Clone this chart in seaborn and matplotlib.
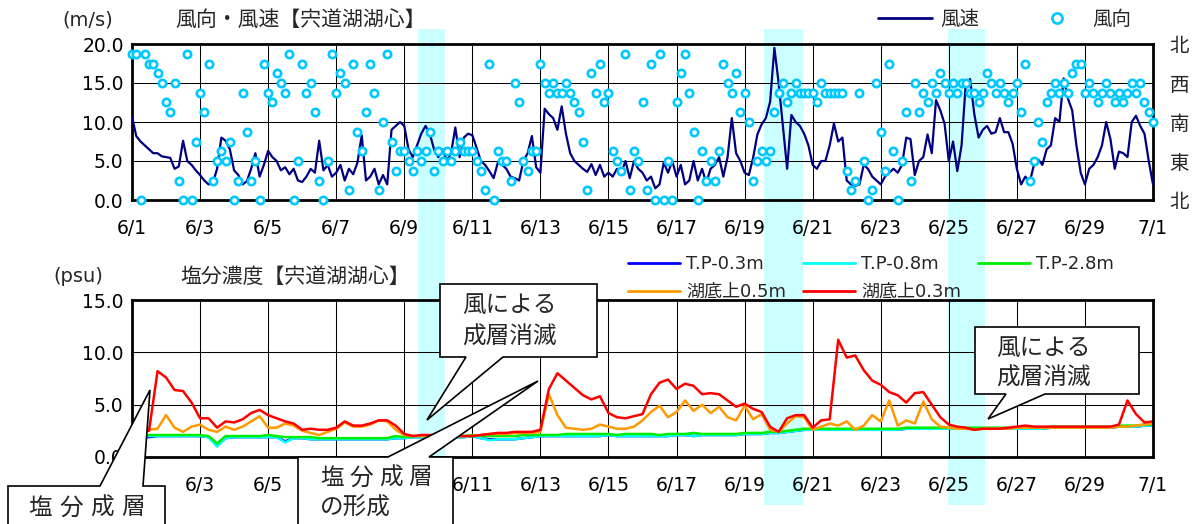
import numpy as np
import pandas as pd
import matplotlib
matplotlib.use("Agg")
import matplotlib.pyplot as plt
import matplotlib.patches as mpatches
import matplotlib.transforms as mtransforms
from matplotlib.lines import Line2D
import seaborn as sns

# ------------------------------------------------------------------ data
date_labels = ["6/1", "6/3", "6/5", "6/7", "6/9", "6/11", "6/13", "6/15",
               "6/17", "6/19", "6/21", "6/23", "6/25", "6/27", "6/29", "7/1"]
# labels of the lower panel that lie under the call-out boxes
hidden_lower_labels = ["6/1", "6/7", "6/9"]
dir_labels = ["北", "東", "南", "西", "北"]

# wind speed (m/s), every 3 hours from 6/1 0:00 to 7/1 0:00
wind_speed = [
    10.7, 8.2, 7.5, 7.0, 6.5, 6.0, 6.0, 5.6,
    5.5, 5.4, 4.0, 4.3, 7.6, 5.0, 4.5, 3.8,
    3.2, 2.5, 2.0, 2.2, 4.0, 8.0, 7.6, 6.5,
    3.8, 3.2, 2.0, 2.4, 4.0, 6.0, 3.0, 4.5,
    6.3, 5.5, 5.0, 3.8, 4.2, 3.3, 4.0, 2.5,
    2.3, 3.0, 4.0, 3.5, 7.6, 3.8, 4.5, 3.0,
    3.5, 4.5, 2.5, 4.0, 3.3, 4.8, 8.3, 2.5,
    3.0, 4.0, 2.0, 3.2, 2.0, 9.0, 9.5, 10.0,
    9.5, 6.5, 5.5, 7.0, 8.5, 9.5, 8.5, 6.5,
    5.5, 6.5, 5.0, 6.0, 9.3, 5.5, 8.0, 8.5,
    8.3, 6.7, 5.0, 4.5, 3.7, 2.8, 4.8, 4.5,
    4.0, 3.0, 2.8, 2.5, 5.0, 6.0, 8.2, 4.2,
    3.5, 11.7, 11.0, 10.5, 9.0, 12.0, 8.5, 6.0,
    5.0, 4.5, 4.0, 3.6, 4.6, 3.2, 4.5, 3.0,
    3.5, 3.0, 4.0, 3.5, 5.0, 2.8, 5.0, 4.0,
    3.5, 2.5, 3.0, 1.5, 2.0, 4.8, 3.5, 5.0,
    3.0, 4.5, 2.0, 2.5, 5.0, 2.5, 4.0, 2.2,
    4.0, 4.5, 5.5, 3.0, 5.5, 10.5, 6.0, 5.0,
    3.5, 3.2, 5.4, 8.4, 9.7, 10.5, 12.6, 19.5,
    15.0, 9.5, 4.0, 10.9, 10.0, 9.5, 8.5, 7.0,
    4.5, 4.0, 5.0, 5.0, 7.0, 9.8, 7.5, 8.0,
    2.5, 2.0, 1.8, 2.0, 4.5, 4.0, 3.0, 2.5,
    2.0, 3.0, 3.5, 4.0, 3.5, 4.5, 8.0, 7.8,
    3.2, 5.0, 5.5, 8.4, 6.0, 12.8, 11.5, 9.8,
    5.0, 7.5, 3.7, 7.0, 15.0, 15.5, 11.0, 8.0,
    9.0, 9.5, 8.5, 8.7, 10.5, 8.7, 8.7, 7.2,
    4.0, 2.0, 3.0, 2.2, 4.5, 5.2, 4.5, 6.5,
    7.0, 10.5, 10.0, 15.6, 13.0, 11.5, 7.0, 3.5,
    2.0, 4.0, 4.5, 5.5, 7.0, 10.0, 7.8, 4.0,
    6.2, 6.0, 5.5, 10.0, 10.8, 9.5, 8.5, 5.0,
    2.0,
]

# wind direction, 16-point index (0=N, 4=E, 8=S, 12=W), every 3 hours
wind_dir16 = [
    15, 15, 0, 15, 14, 14, 13, 12,
    10, 9, 12, 2, 0, 15, 0, 6,
    11, 9, 14, 2, 4, 5, 4, 6,
    0, 2, 11, 7, 2, 4, 0, 14,
    11, 10, 13, 12, 11, 15, 0, 4,
    14, 11, 12, 9, 2, 0, 4, 15,
    11, 13, 12, 1, 14, 7, 5, 9,
    14, 11, 1, 8, 15, 6, 3, 5,
    5, 4, 3, 5, 4, 5, 7, 3,
    5, 4, 5, 4, 5, 6, 5, 5,
    5, 4, 3, 1, 14, 0, 5, 4,
    4, 2, 12, 10, 4, 3, 5, 5,
    14, 12, 11, 12, 11, 11, 12, 11,
    10, 9, 6, 1, 13, 11, 14, 10,
    11, 5, 4, 3, 15, 1, 5, 4,
    10, 1, 14, 0, 15, 0, 4, 0,
    10, 13, 15, 11, 7, 0, 5, 2,
    4, 2, 5, 14, 12, 11, 13, 9,
    11, 8, 2, 4, 5, 4, 5, 9,
    11, 12, 10, 11, 12, 11, 11, 11,
    11, 10, 12, 11, 11, 11, 11, 11,
    3, 1, 2, 11, 4, 0, 1, 12,
    7, 3, 14, 5, 0, 4, 9, 2,
    12, 9, 11, 10, 12, 11, 13, 12,
    11, 12, 11, 12, 12, 11, 11, 10,
    11, 13, 12, 11, 12, 11, 10, 11,
    12, 9, 14, 2, 4, 8, 6, 10,
    11, 12, 11, 12, 11, 13, 14, 14,
    11, 12, 11, 10, 11, 12, 11, 10,
    11, 10, 11, 12, 11, 12, 10, 9,
    8,
]

# salinity (psu), every 6 hours from 6/1 6:00 to 7/1 0:00
sal_bottom03 = [
    2.6, 2.5, 8.2, 7.6,  6.4, 6.3, 5.2, 3.7,  3.7, 2.8, 3.4, 3.3,
    3.6, 4.2, 4.5, 4.0,  3.7, 3.4, 3.2, 2.6,  2.7, 2.6, 2.6, 2.8,
    3.4, 3.0, 3.0, 3.2,  3.5, 3.5, 3.0, 2.2,  2.0, 2.1, 2.1, 2.1,
    2.1, 2.0, 2.0, 2.0,  2.1, 2.2, 2.3, 2.3,  2.4, 2.4, 2.4, 2.6,
    6.5, 8.0, 7.3, 6.6,  5.9, 5.5, 5.8, 4.2,  3.8, 3.7, 3.9, 4.1,
    6.0, 7.1, 7.4, 6.5,  7.0, 6.8, 6.0, 6.1,  6.0, 5.4, 4.8, 5.1,
    4.6, 4.3, 2.9, 2.4,  3.7, 4.0, 4.0, 2.8,  3.5, 3.6, 11.2, 9.5,
    9.7, 8.3, 7.3, 6.9,  6.2, 5.9, 5.2, 6.1,  6.2, 5.0, 3.8, 3.1,
    2.9, 2.8, 2.6, 2.7,  2.7, 2.7, 2.8, 2.9,  3.0, 2.9, 2.9, 2.9,
    2.9, 2.9, 2.9, 2.9,  2.9, 2.9, 2.9, 3.1,  5.4, 4.1, 3.3, 3.4,
]
sal_bottom05 = [
    2.7, 2.6, 2.7, 4.0,  2.8, 2.4, 2.9, 3.1,  2.6, 2.4, 2.9, 2.6,
    2.9, 3.4, 3.9, 2.8,  2.8, 3.2, 3.0, 2.5,  2.3, 2.1, 2.4, 2.7,
    3.3, 2.9, 2.9, 3.1,  3.5, 3.4, 2.6, 2.1,  2.0, 2.0, 2.0, 2.0,
    2.0, 2.0, 2.0, 2.0,  2.1, 2.2, 2.2, 2.2,  2.3, 2.3, 2.3, 2.4,
    6.0, 4.0, 2.8, 2.7,  2.6, 2.7, 3.1, 2.9,  2.7, 2.7, 2.9, 3.5,
    4.3, 4.9, 3.8, 4.3,  5.4, 4.4, 5.0, 4.2,  4.8, 3.8, 3.5, 4.9,
    3.6, 4.1, 2.6, 2.4,  3.2, 3.9, 3.8, 2.6,  2.9, 3.2, 3.0, 3.4,
    2.6, 3.0, 4.0, 3.4,  5.4, 3.0, 3.5, 3.2,  5.3, 3.6, 2.9, 2.8,
    2.7, 2.7, 2.6, 2.7,  2.7, 2.7, 2.7, 2.8,  2.8, 2.8, 2.8, 2.8,
    2.8, 2.8, 2.8, 2.8,  2.8, 2.8, 2.8, 2.9,  2.9, 3.0, 3.1, 3.2,
]
sal_tp28 = [
    2.1, 2.1, 2.1, 2.1,  2.1, 2.1, 2.1, 2.1,  2.0, 1.3, 2.0, 2.0,
    2.0, 2.0, 2.0, 2.1,  2.0, 1.9, 1.9, 1.9,  1.9, 1.8, 1.8, 1.8,
    1.8, 1.8, 1.8, 1.8,  1.8, 1.8, 2.0, 1.9,  2.0, 2.0, 2.0, 2.0,
    2.0, 2.0, 2.0, 2.1,  2.0, 2.0, 2.0, 2.0,  2.0, 2.1, 2.1, 2.1,
    2.1, 2.1, 2.2, 2.2,  2.2, 2.2, 2.2, 2.2,  2.1, 2.2, 2.2, 2.2,
    2.2, 2.1, 2.2, 2.2,  2.2, 2.3, 2.2, 2.2,  2.2, 2.2, 2.2, 2.3,
    2.3, 2.3, 2.4, 2.4,  2.5, 2.6, 2.7, 2.7,  2.7, 2.7, 2.7, 2.7,
    2.7, 2.7, 2.7, 2.7,  2.7, 2.7, 2.8, 2.8,  2.8, 2.8, 2.8, 2.8,
    2.8, 2.8, 2.8, 2.8,  2.8, 2.8, 2.8, 2.8,  2.8, 2.8, 2.8, 2.9,
    2.9, 2.9, 2.9, 2.9,  2.9, 2.9, 2.9, 3.0,  3.0, 3.0, 3.1, 3.1,
]
sal_tp08 = [
    2.0, 2.0, 2.0, 2.0,  2.0, 2.0, 2.0, 2.0,  1.9, 1.0, 1.8, 1.9,
    1.9, 1.9, 1.9, 1.9,  1.9, 1.4, 1.8, 1.8,  1.7, 1.7, 1.7, 1.7,
    1.7, 1.7, 1.7, 1.7,  1.7, 1.7, 1.8, 1.8,  1.9, 1.9, 1.9, 1.9,
    1.9, 1.9, 1.9, 2.0,  1.8, 1.6, 1.7, 1.7,  1.7, 1.8, 1.9, 2.0,
    2.0, 2.0, 2.0, 2.0,  2.0, 2.0, 2.0, 2.1,  2.0, 2.0, 2.0, 2.0,
    2.0, 2.0, 2.0, 2.1,  2.1, 2.0, 2.1, 2.1,  2.1, 2.1, 2.1, 2.2,
    2.2, 2.2, 2.3, 2.3,  2.4, 2.5, 2.6, 2.6,  2.6, 2.6, 2.6, 2.6,
    2.6, 2.6, 2.6, 2.6,  2.6, 2.6, 2.7, 2.7,  2.7, 2.7, 2.7, 2.7,
    2.7, 2.7, 2.7, 2.7,  2.7, 2.7, 2.7, 2.7,  2.7, 2.7, 2.7, 2.8,
    2.8, 2.8, 2.8, 2.8,  2.8, 2.8, 2.8, 2.9,  2.9, 2.9, 3.0, 3.0,
]
sal_tp03 = [
    1.9, 1.9, 2.0, 2.0,  2.0, 2.0, 2.0, 2.0,  1.9, 1.1, 1.8, 1.9,
    1.9, 1.9, 1.9, 1.9,  1.9, 1.5, 1.8, 1.8,  1.7, 1.7, 1.7, 1.7,
    1.7, 1.7, 1.7, 1.7,  1.7, 1.7, 1.8, 1.8,  1.9, 1.9, 1.9, 1.9,
    1.9, 1.9, 1.9, 2.0,  1.8, 1.7, 1.7, 1.7,  1.7, 1.8, 1.9, 2.0,
    2.0, 2.0, 2.0, 2.0,  2.0, 2.0, 2.0, 2.1,  2.0, 2.0, 2.0, 2.0,
    2.0, 2.0, 2.0, 2.1,  2.1, 2.0, 2.1, 2.1,  2.1, 2.1, 2.1, 2.2,
    2.2, 2.2, 2.3, 2.3,  2.4, 2.5, 2.6, 2.6,  2.6, 2.6, 2.6, 2.6,
    2.6, 2.6, 2.6, 2.6,  2.6, 2.6, 2.7, 2.7,  2.7, 2.7, 2.7, 2.7,
    2.7, 2.7, 2.7, 2.7,  2.7, 2.7, 2.7, 2.7,  2.7, 2.7, 2.7, 2.8,
    2.8, 2.8, 2.8, 2.8,  2.8, 2.8, 2.8, 2.9,  2.9, 2.9, 3.0, 3.0,
]
sal_names = ["T.P-0.3m", "T.P-0.8m", "T.P-2.8m", "湖底上0.5m", "湖底上0.3m"]
sal_colors = ["#0000ff", "#00ffff", "#00ee00", "#ff9900", "#ff0000"]

# periods shaded (days after 6/1 0:00)
band_days = [(8.40, 9.20), (18.57, 19.72), (23.98, 25.07)]

# ------------------------------------------------------------------ frames
t_wind = np.arange(len(wind_speed)) / 8.0
wind_df = pd.DataFrame({"day": t_wind, "speed": wind_speed,
                        "dir": np.array(wind_dir16) * 20.0 / 16.0})
t_sal = 0.25 * np.arange(1, len(sal_tp28) + 1)
sal_df = pd.concat([pd.DataFrame({"day": t_sal, "psu": v, "series": n})
                    for n, v in zip(sal_names,
                                    [sal_tp03, sal_tp08, sal_tp28, sal_bottom05, sal_bottom03])],
                   ignore_index=True)

# ------------------------------------------------------------------ style
sns.set_style("white")
plt.rcParams["font.family"] = ["DejaVu Sans", "Noto Sans CJK JP"]
CJK = ["Noto Sans CJK JP", "DejaVu Sans"]

W, H = 1192, 524
fig = plt.figure(figsize=(W / 100, H / 100), dpi=100)
fig.patch.set_facecolor("white")

ax1 = fig.add_axes([132 / W, 1 - 200 / H, 1021 / W, 156 / H])
ax2 = fig.add_axes([132 / W, 1 - 457 / H, 1021 / W, 157 / H])

wind_col = "#000080"
dir_col = "#00c8ff"

sns.lineplot(data=wind_df, x="day", y="speed", ax=ax1, color=wind_col,
             lw=1.6, legend=False, zorder=3)
sns.scatterplot(data=wind_df, x="day", y="dir", ax=ax1, marker="o", s=28,
                facecolor="white", edgecolor=dir_col, linewidth=1.9,
                legend=False, zorder=4, clip_on=False)

sns.lineplot(data=sal_df, x="day", y="psu", hue="series", hue_order=sal_names,
             palette=dict(zip(sal_names, sal_colors)), ax=ax2, lw=1.8,
             legend=False, sort=False, errorbar=None)

for ax in (ax1, ax2):
    ax.set_facecolor("none")
    ax.set_xlim(0, 30)
    ax.set_xticks(np.arange(0, 31, 2))
    ax.set_xlabel("")
    ax.set_ylabel("")
    ax.grid(True, color="black", lw=0.75)
    ax.set_axisbelow(True)
    for s in ax.spines.values():
        s.set_visible(True)
        s.set_color("black")
        s.set_linewidth(2.0)
    ax.tick_params(axis="both", length=0, labelsize=13.5, colors="black")
    ax.tick_params(axis="x", pad=14)
    ax.tick_params(axis="y", pad=6)

ax1.set_xticklabels(date_labels)
ax2.set_xticklabels(["" if d in hidden_lower_labels else d for d in date_labels])

ax1.set_ylim(0, 20)
ax1.set_yticks([0, 5, 10, 15, 20])
ax1.set_yticklabels([f"{v:.1f}" for v in [0, 5, 10, 15, 20]])
ax2.set_ylim(0, 15)
ax2.set_yticks([0, 5, 10, 15])
ax2.set_yticklabels([f"{v:.1f}" for v in [0, 5, 10, 15]])

ax1r = ax1.twinx()
ax1r.set_ylim(0, 20)
ax1r.set_yticks([0, 5, 10, 15, 20])
ax1r.set_yticklabels(dir_labels, family=CJK, fontsize=14)
ax1r.tick_params(length=0, pad=12)
for s in ax1r.spines.values():
    s.set_visible(False)

# shaded periods spanning both panels
band_tr = mtransforms.blended_transform_factory(ax1.transData, fig.transFigure)
for d0, d1 in band_days:
    fig.add_artist(mpatches.Rectangle((d0, 1 - 505 / H), d1 - d0, (505 - 29) / H,
                                      transform=band_tr, facecolor="#ccffff",
                                      edgecolor="none", zorder=-1))

# titles / units
fig.text(88 / W, 1 - 20 / H, "(m/s)", ha="center", va="center", fontsize=14)
fig.text(175 / W, 1 - 20 / H, "風向・風速【宍道湖湖心】", ha="left", va="center",
         family=CJK, fontsize=15)
fig.text(78 / W, 1 - 276 / H, "(psu)", ha="center", va="center", fontsize=14)
fig.text(180 / W, 1 - 277 / H, "塩分濃度【宍道湖湖心】", ha="left", va="center",
         family=CJK, fontsize=15)

# legends
h_speed = Line2D([], [], color=wind_col, lw=2.0)
h_dir = Line2D([], [], ls="none", marker="o", ms=7.3, mfc="white", mec=dir_col, mew=1.9)
fig.legend([h_speed, h_dir], ["風速", "風向"], loc="center left",
           bbox_to_anchor=(878 / W, 1 - 19 / H), ncol=2, frameon=False,
           handlelength=2.8, handletextpad=0.4, columnspacing=2.6,
           borderpad=0, borderaxespad=0, prop={"family": CJK, "size": 14})

sal_handles = [Line2D([], [], color=c, lw=2.0) for c in sal_colors]
order = [0, 3, 1, 4, 2]
fig.legend([sal_handles[i] for i in order], [sal_names[i] for i in order],
           loc="upper left", bbox_to_anchor=(628 / W, 1 - 255 / H), ncol=3,
           frameon=False, handlelength=2.88, handletextpad=0.33,
           columnspacing=0.94, labelspacing=0.55, borderpad=0, borderaxespad=0,
           prop={"family": ["DejaVu Sans", "Noto Sans CJK JP"], "size": 13})

# callouts (pixel coordinates, origin top-left)
pix = mtransforms.Affine2D().scale(1 / W, -1 / H).translate(0, 1) + fig.transFigure
callouts = [
    [(8, 530), (8, 486), (100, 486), (150, 390), (143, 486), (165, 486), (165, 530)],
    [(298, 530), (298, 457), (388, 457), (538, 381), (429, 457), (453, 457), (453, 530)],
    [(440, 284), (597, 284), (597, 357), (503, 357), (427, 420), (466, 357), (440, 357)],
    [(975, 327), (1139, 327), (1139, 394), (1045, 394), (988, 419), (1006, 394), (975, 394)],
]
for poly in callouts:
    fig.add_artist(mpatches.Polygon(poly, closed=True, transform=pix,
                                    facecolor="white", edgecolor="black",
                                    lw=1.2, zorder=5))

# spaced captions: one glyph per position
spaced_texts = [
    (28, 508, 31.0, "塩分成層"),
    (320, 478, 29.5, "塩分成層"),
]
for x, y, pitch, s in spaced_texts:
    for i, ch in enumerate(s):
        fig.text((x + i * pitch) / W, 1 - y / H, ch, ha="left", va="center",
                 family=CJK, fontsize=17, zorder=6)

callout_texts = [
    (320, 508, "の形成"),
    (462, 305, "風による"),
    (462, 337, "成層消滅"),
    (996, 348, "風による"),
    (996, 378, "成層消滅"),
]
for x, y, s in callout_texts:
    fig.text(x / W, 1 - y / H, s, ha="left", va="center", family=CJK,
             fontsize=17, zorder=6)

fig.savefig("out.png", dpi=100, facecolor="white")
